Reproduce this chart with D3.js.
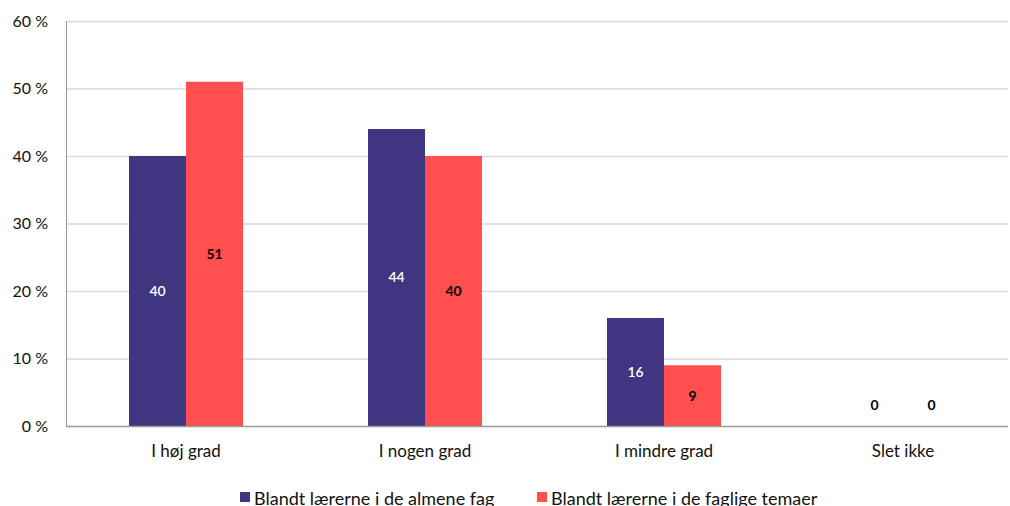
<!DOCTYPE html>
<html>
<head>
<meta charset="utf-8">
<script src="https://cdn.jsdelivr.net/npm/d3@7"></script>
<style>
  body { margin: 0; background: #fff; }
  svg { display: block; font-family: Lato, "Open Sans", sans-serif; }
</style>
</head>
<body>
<svg id="chart" width="1010" height="506"></svg>
<script>
const categories = ["I høj grad", "I nogen grad", "I mindre grad", "Slet ikke"];
const seriesNames = ["Blandt lærerne i de almene fag", "Blandt lærerne i de faglige temaer"];
const almene = [40, 44, 16, 0];
const faglige = [51, 40, 9, 0];
const yTicks = [0, 10, 20, 30, 40, 50, 60];
const colors = ["#403580", "#FF4F4F"];
const labelColors = ["#ffffff", "#000000"];

const svg = d3.select("#chart");
const m = { left: 66, right: 1008, top: 21, bottom: 426 };

// category bands run slightly past the visible right edge of the plot
const x = d3.scaleBand().domain(categories).range([66.5, 1022.5]);
const y = d3.scaleLinear().domain([0, 60]).range([m.bottom, m.top]);
const groupW = 114;
const xs = d3.scaleBand().domain([0, 1]).range([0, groupW]);

// gridlines
svg.append("g").selectAll("line").data(yTicks.filter(d => d > 0)).join("line")
  .attr("x1", m.left).attr("x2", m.right)
  .attr("y1", d => y(d) + 0.5).attr("y2", d => y(d) + 0.5)
  .attr("stroke", "#d9d9d9").attr("stroke-width", 1.5);

// y tick labels
svg.append("g").selectAll("text").data(yTicks).join("text")
  .attr("x", 48).attr("y", d => y(d)).attr("dy", "0.35em")
  .attr("text-anchor", "end").attr("font-size", 16).attr("fill", "#111")
  .text(d => d + " %");

// bars
const data = [almene, faglige];
const groups = svg.append("g").selectAll("g").data(categories).join("g")
  .attr("transform", d => `translate(${x(d) + x.bandwidth() / 2 - groupW / 2},0)`);

groups.selectAll("rect").data((c, i) => data.map((s, k) => ({ k, v: s[i] }))).join("rect")
  .attr("x", d => xs(d.k)).attr("width", xs.bandwidth())
  .attr("y", d => y(d.v)).attr("height", d => y(0) - y(d.v))
  .attr("fill", d => colors[d.k]);

groups.selectAll("text").data((c, i) => data.map((s, k) => ({ k, v: s[i] }))).join("text")
  .attr("x", d => xs(d.k) + xs.bandwidth() / 2)
  .attr("y", d => Math.min((y(d.v) + y(0)) / 2, y(0) - 21))
  .attr("dy", "0.35em").attr("text-anchor", "middle")
  .attr("font-size", 14).attr("font-weight", d => d.k === 1 || d.v === 0 ? "bold" : "600")
  .attr("fill", d => d.v === 0 ? "#000" : labelColors[d.k])
  .text(d => d.v);

// axis lines
svg.append("line").attr("x1", m.left + 0.5).attr("x2", m.left + 0.5)
  .attr("y1", m.top).attr("y2", m.bottom).attr("stroke", "#999").attr("stroke-width", 1);
svg.append("line").attr("x1", m.left).attr("x2", m.right)
  .attr("y1", m.bottom + 0.5).attr("y2", m.bottom + 0.5).attr("stroke", "#999").attr("stroke-width", 1.5);

// category labels
svg.append("g").selectAll("text").data(categories).join("text")
  .attr("x", d => x(d) + x.bandwidth() / 2).attr("y", 457)
  .attr("text-anchor", "middle").attr("font-size", 17).attr("fill", "#111")
  .text(d => d);

// legend
const legendX = [240, 537];
const lg = svg.append("g").selectAll("g").data(seriesNames).join("g")
  .attr("transform", (d, i) => `translate(${legendX[i]},492)`);
lg.append("rect").attr("width", 10).attr("height", 10).attr("y", 0).attr("fill", (d, i) => colors[i]);
lg.append("text").attr("x", 14).attr("y", 13)
  .attr("font-size", 18).attr("fill", "#111").text(d => d);
</script>
</body>
</html>
